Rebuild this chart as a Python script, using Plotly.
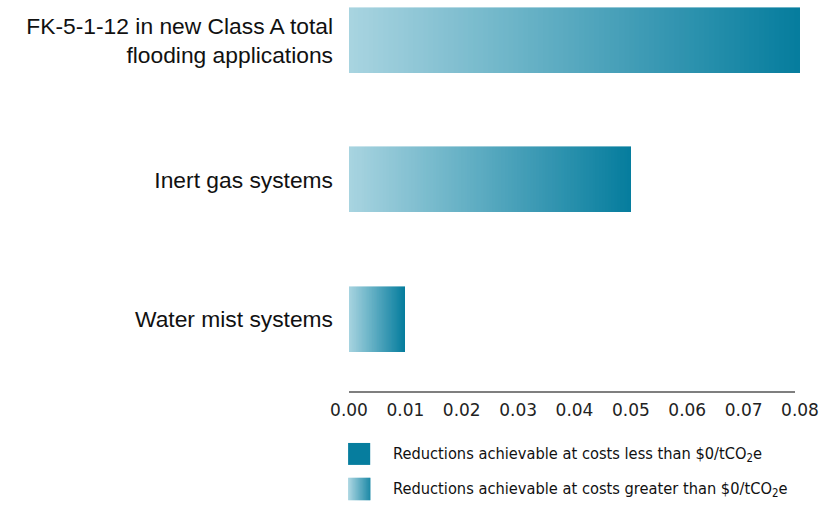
import plotly.graph_objects as go

categories = ["Water mist systems", "Inert gas systems",
              "FK-5-1-12 in new Class A total<br>flooding applications"]
values = [0.01, 0.05, 0.08]
tick_vals = [0, 0.01, 0.02, 0.03, 0.04, 0.05, 0.06, 0.07, 0.08]
tick_text = ["0.00", "0.01", "0.02", "0.03", "0.04", "0.05", "0.06", "0.07", "0.08"]
legend_labels = ["Reductions achievable at costs less than $0/tCO<sub>2</sub>e",
                 "Reductions achievable at costs greater than $0/tCO<sub>2</sub>e"]

LIGHT = (168, 212, 224)
DARK = (6, 125, 158)
N = 90


def mix(t):
    return "rgb(%d,%d,%d)" % tuple(round(a + (b - a) * t) for a, b in zip(LIGHT, DARK))


fig = go.Figure()
for k in range(N):
    c = mix(k / (N - 1))
    fig.add_trace(go.Bar(
        y=categories, x=[v / N for v in values], orientation="h",
        marker=dict(color=c, line=dict(width=0.6, color=c)),
        width=0.466, showlegend=False, hoverinfo="skip"))

shapes = [
    # axis line
    dict(type="line", xref="paper", yref="paper", x0=0, x1=0.989, y0=0, y1=0,
         line=dict(color="#555555", width=1.5)),
    # legend square 1 (solid)
    dict(type="rect", xref="paper", yref="paper", x0=-0.002, x1=0.047,
         y0=-0.130, y1=-0.186, fillcolor="rgb(6,125,158)", line=dict(width=0)),
]
# legend square 2 (gradient)
M = 22
x0, x1 = -0.002, 0.047
for k in range(M):
    c = mix(k / (M - 1))
    shapes.append(dict(type="rect", xref="paper", yref="paper",
                       x0=x0 + (x1 - x0) * k / M, x1=x0 + (x1 - x0) * (k + 1) / M + 0.0005,
                       y0=-0.219, y1=-0.276, fillcolor=c, line=dict(width=0)))

annotations = []
for i, lab in enumerate(legend_labels):
    annotations.append(dict(
        xref="paper", yref="paper", x=0.093, y=[-0.160, -0.249][i],
        xanchor="left", yanchor="middle", showarrow=False, text=lab,
        font=dict(family="DejaVu Sans Condensed, Liberation Sans Narrow, sans-serif",
                  size=16.3, color="#111111")))

fig.update_layout(
    barmode="stack", bargap=0,
    width=822, height=508,
    margin=dict(l=349, r=22, t=0, b=116),
    plot_bgcolor="white", paper_bgcolor="white",
    shapes=shapes, annotations=annotations,
    xaxis=dict(range=[0, 0.08], tickvals=tick_vals, ticktext=tick_text,
               showgrid=False, zeroline=False, showline=False, ticks="",
               tickfont=dict(family="DejaVu Sans", size=17, color="#222222"),
               ticklabelstandoff=6),
    yaxis=dict(categoryorder="array", categoryarray=categories,
               range=[-0.52, 2.29], showgrid=False, zeroline=False,
               showline=False, ticks="",
               tickfont=dict(family="Liberation Sans, Arial, sans-serif", size=22.8, color="#111111"),
               ticklabelstandoff=15),
)

fig.write_html("out.html", config={"displayModeBar": False},
               post_script="document.body.style.margin='0';")
